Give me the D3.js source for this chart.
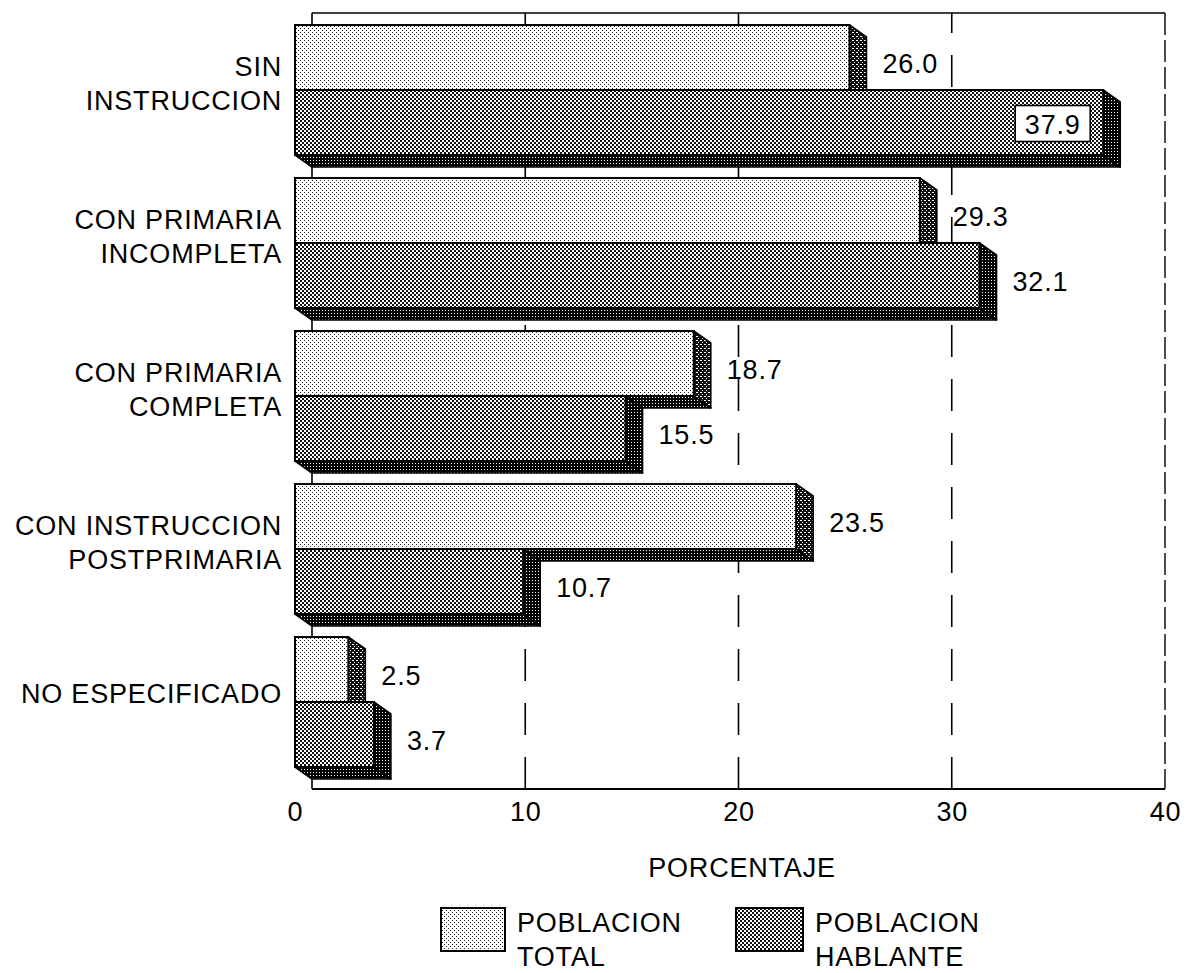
<!DOCTYPE html>
<html>
<head>
<meta charset="utf-8">
<script src="https://cdn.jsdelivr.net/npm/d3@7"></script>
<style>
  html, body { margin: 0; padding: 0; background: #fff; }
  svg { display: block; }
  text { font-family: "Liberation Sans", Arial, Helvetica, sans-serif; fill: #000; }
</style>
</head>
<body>
<svg id="chart" width="1187" height="973"></svg>
<script>
// ---------- data ----------
const categories = ["SIN INSTRUCCION", "CON PRIMARIA INCOMPLETA", "CON PRIMARIA COMPLETA", "CON INSTRUCCION POSTPRIMARIA", "NO ESPECIFICADO"];
const categoryLines = [["SIN", "INSTRUCCION"], ["CON PRIMARIA", "INCOMPLETA"], ["CON PRIMARIA", "COMPLETA"], ["CON INSTRUCCION", "POSTPRIMARIA"], ["NO ESPECIFICADO"]];
const poblacionTotal = [26.0, 29.3, 18.7, 23.5, 2.5];
const poblacionHablante = [37.9, 32.1, 15.5, 10.7, 3.7];
const seriesKeys = ["total", "hablante"];
const seriesLegend = [["POBLACION", "TOTAL"], ["POBLACION", "HABLANTE"]];
const xTicks = [0, 10, 20, 30, 40];
const gridTicks = [10, 20, 30];
const xTitle = "PORCENTAJE";

// ---------- layout ----------
const svg = d3.select("#chart");
const plotLeft = 312, plotRight = 1165, plotTop = 13, plotBottom = 789;
const depthX = 17, depthY = 12;
const FONT = 27, LS = "0.8px";

const x = d3.scaleLinear().domain([0, 40]).range([plotLeft, plotRight]);
const step = 153, gap = 23;
const yBand = d3.scaleBand().domain(categories)
  .range([25, 25 + 5 * step - gap]).paddingInner(gap / step).paddingOuter(0);
const ySub = d3.scaleBand().domain(seriesKeys).range([0, yBand.bandwidth()]);

// ---------- patterns ----------
const defs = svg.append("defs");
function pattern(id, size, bg, fg, rects) {
  const p = defs.append("pattern").attr("id", id).attr("patternUnits", "userSpaceOnUse")
    .attr("width", size).attr("height", size);
  p.append("rect").attr("width", size).attr("height", size).attr("fill", bg);
  rects.forEach(r => p.append("rect").attr("x", r[0]).attr("y", r[1]).attr("width", r[2]).attr("height", r[3]).attr("fill", fg));
}
pattern("pLight", 4, "#fff", "#222", [[0, 0, 1, 1], [2, 2, 1, 1]]);
pattern("pMid", 4, "#fff", "#111", [[0, 0, 2, 2], [2, 2, 2, 2]]);
pattern("pSide1", 4, "#111", "#fff", [[0, 0, 2, 1], [2, 2, 1, 1]]);
pattern("pSide2", 3, "#000", "#fff", [[1, 1, 1, 1]]);

const styles = {
  total: { front: "url(#pLight)", side: "url(#pSide1)", bottom: "url(#pSide2)" },
  hablante: { front: "url(#pMid)", side: "url(#pSide2)", bottom: "url(#pSide2)" }
};

// ---------- frame & grid ----------
const frame = svg.append("g");
frame.selectAll("line.grid").data(gridTicks).join("line")
  .attr("class", "grid")
  .attr("x1", d => x(d)).attr("x2", d => x(d))
  .attr("y1", plotBottom).attr("y2", plotTop)
  .attr("stroke", "#000").attr("stroke-width", 1.6)
  .attr("stroke-dasharray", "32,22");
frame.append("line").attr("x1", plotLeft).attr("x2", plotRight).attr("y1", plotTop).attr("y2", plotTop)
  .attr("stroke", "#000").attr("stroke-width", 1.6);
frame.append("line").attr("x1", plotRight).attr("x2", plotRight).attr("y1", plotTop).attr("y2", plotBottom)
  .attr("stroke", "#000").attr("stroke-width", 1.4).attr("stroke-dasharray", "22,5");
frame.append("line").attr("x1", plotLeft).attr("x2", plotLeft).attr("y1", plotTop).attr("y2", plotBottom)
  .attr("stroke", "#000").attr("stroke-width", 1.6);
frame.append("line").attr("x1", plotLeft).attr("x2", plotRight).attr("y1", plotBottom).attr("y2", plotBottom)
  .attr("stroke", "#000").attr("stroke-width", 1.8);

// ---------- bars ----------
const rows = categories.map((c, i) => ({ cat: c, lines: categoryLines[i], total: poblacionTotal[i], hablante: poblacionHablante[i] }));
const barsG = svg.append("g");

rows.forEach(r => {
  seriesKeys.forEach(k => {
    const v = r[k];
    const st = styles[k];
    const fx0 = x(0) - depthX, fx1 = x(v) - depthX;
    const fy0 = yBand(r.cat) + ySub(k), fy1 = fy0 + ySub.bandwidth();
    const g = barsG.append("g");
    g.append("path")
      .attr("d", `M${fx0},${fy1}L${fx1},${fy1}L${fx1 + depthX},${fy1 + depthY}L${fx0 + depthX},${fy1 + depthY}Z`)
      .attr("fill", st.bottom).attr("stroke", "#000").attr("stroke-width", 1.6).attr("stroke-linejoin", "round");
    g.append("path")
      .attr("d", `M${fx1},${fy0}L${fx1 + depthX},${fy0 + depthY}L${fx1 + depthX},${fy1 + depthY}L${fx1},${fy1}Z`)
      .attr("fill", st.side).attr("stroke", "#000").attr("stroke-width", 1.6).attr("stroke-linejoin", "round");
    g.append("rect")
      .attr("x", fx0).attr("y", fy0).attr("width", fx1 - fx0).attr("height", fy1 - fy0)
      .attr("fill", st.front).attr("stroke", "#000").attr("stroke-width", 2);

    const cy = (fy0 + fy1) / 2;
    const label = v.toFixed(1);
    if (x(v) + 16 + 60 > plotRight) {
      const bw = 75, bh = 36;
      const bx = fx1 - 13 - bw, by = cy + 1 - bh / 2;
      g.append("rect").attr("x", bx).attr("y", by).attr("width", bw).attr("height", bh)
        .attr("fill", "#fff").attr("stroke", "#000").attr("stroke-width", 1.6);
      g.append("text").attr("x", bx + bw / 2).attr("y", cy + 1 + 10)
        .attr("text-anchor", "middle").attr("font-size", FONT).attr("letter-spacing", LS).text(label);
    } else {
      g.append("text").attr("x", x(v) + 16).attr("y", cy + 5 + 10)
        .attr("font-size", FONT).attr("letter-spacing", LS).text(label);
    }
  });
});

// ---------- category labels ----------
const catG = svg.append("g");
rows.forEach(r => {
  const c = yBand(r.cat) + yBand.bandwidth() / 2;
  const n = r.lines.length;
  const lh = 34;
  const centers = n === 1 ? [c - 9] : r.lines.map((_, j) => c - 7 + (j - (n - 1) / 2) * lh);
  r.lines.forEach((t, j) => {
    catG.append("text").attr("x", 282).attr("y", centers[j] + 10)
      .attr("text-anchor", "end").attr("font-size", FONT).attr("letter-spacing", LS).text(t);
  });
});

// ---------- x axis ----------
const axisG = svg.append("g").attr("transform", `translate(0,${plotBottom})`)
  .call(d3.axisBottom(x).tickValues(xTicks).tickSize(0).tickFormat(d3.format("d")));
axisG.select(".domain").remove();
axisG.selectAll(".tick text")
  .attr("y", 32).attr("dy", null)
  .attr("font-size", FONT).attr("letter-spacing", LS)
  .style("font-family", '"Liberation Sans", Arial, sans-serif').attr("fill", "#000")
  .attr("dx", d => d === 0 ? -17 : 0);

svg.append("text").attr("x", 742).attr("y", 877).attr("text-anchor", "middle")
  .attr("font-size", FONT).attr("letter-spacing", LS).text(xTitle);

// ---------- legend ----------
const legendBoxes = [{ x: 441, w: 64, fill: "url(#pLight)" }, { x: 736, w: 67, fill: "url(#pMid)" }];
seriesKeys.forEach((k, i) => {
  const b = legendBoxes[i];
  svg.append("rect").attr("x", b.x).attr("y", 908).attr("width", b.w).attr("height", 43)
    .attr("fill", b.fill).attr("stroke", "#000").attr("stroke-width", 2);
  seriesLegend[i].forEach((t, j) => {
    svg.append("text").attr("x", b.x + b.w + 12).attr("y", 932 + j * 34)
      .attr("font-size", FONT).attr("letter-spacing", LS).text(t);
  });
});
</script>
</body>
</html>
